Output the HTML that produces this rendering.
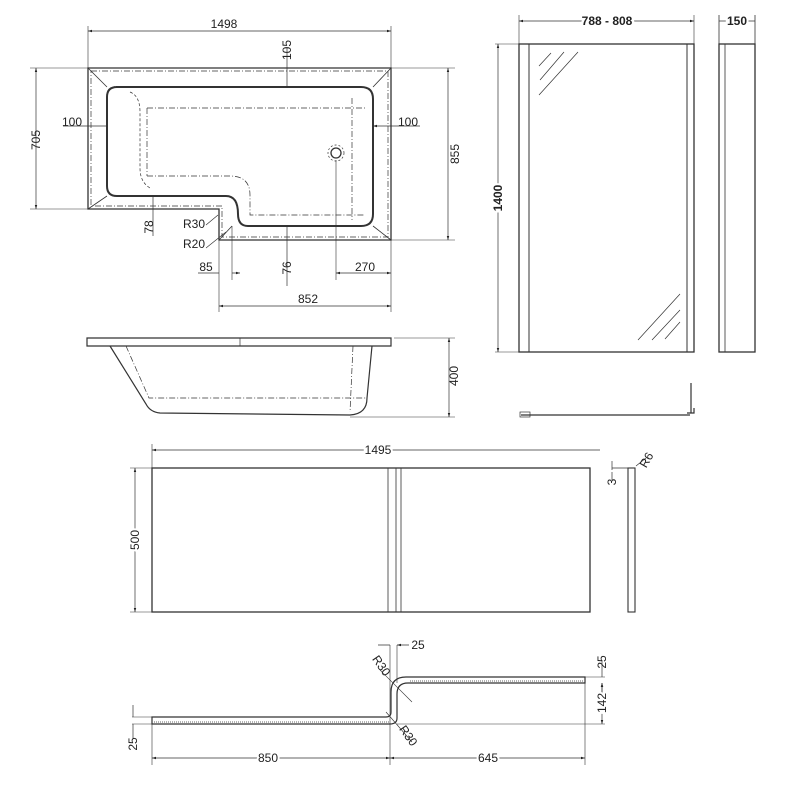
<!DOCTYPE html>
<html><head><meta charset="utf-8"><style>
html,body{margin:0;padding:0;background:#fff;width:800px;height:800px;overflow:hidden}
text{font-family:"Liberation Sans",Arial,sans-serif;fill:#222;font-size:12px}
</style></head><body>
<svg width="800" height="800" viewBox="0 0 800 800" xmlns="http://www.w3.org/2000/svg">
<defs>
<marker id="a" viewBox="0 0 10 10" refX="10" refY="5" markerWidth="6" markerHeight="6" orient="auto-start-reverse"><path d="M0,2 L10,5 L0,8z" fill="#222"/></marker>
</defs>
<g stroke="#333" fill="none" stroke-width="1">
<path d="M88,68 H391 V240 H219 V209 H88 Z" stroke-width="1.3"/>
<path d="M91,71 H388 V237 H222 V206 H91 Z" stroke-dasharray="6,2,1,2" stroke-width="0.7"/>
<path d="M116,87 H361 Q373,87 373,99 V214 Q373,226 361,226 H248 Q238,226 238,214 Q238,196 226,196 H117 Q107,196 107,186 V97 Q107,87 117,87 Z" stroke-width="2"/>
<path d="M88,68 L107,87 M391,68 L373,87 M391,240 L373,226 M88,209 L107,196 M219,240 L232,226" stroke-width="0.8"/>
<path d="M147,108 H365 M147,176 H230 Q250,176 250,195 V215 H365 M147,108 V176 M352,98 V220" stroke-dasharray="6,2,1,2" stroke-width="0.7"/>
<path d="M130,92 Q140,96 140,112 V168 Q140,182 150,188" stroke-dasharray="3,2" stroke-width="0.7"/>
<circle cx="336" cy="153" r="5" stroke-width="1.3"/><circle cx="336" cy="153" r="8" stroke-dasharray="2,2" stroke-width="0.7"/>
<path d="M88,68 V26 M391,68 V26 M88,209 H30 M88,68 H30 M391,68 H455 M391,240 H455 M219,240 V312 M391,240 V312 M232,226 V280 M336,160 V280" stroke-width="0.6"/>
<path d="M88,31 H391" marker-start="url(#a)" marker-end="url(#a)" stroke-width="0.7"/>
<path d="M36,68 V209" marker-start="url(#a)" marker-end="url(#a)" stroke-width="0.7"/>
<path d="M448,68 V240" marker-start="url(#a)" marker-end="url(#a)" stroke-width="0.7"/>
<path d="M219,306 H391" marker-start="url(#a)" marker-end="url(#a)" stroke-width="0.7"/>
<path d="M336,273 H391" marker-start="url(#a)" marker-end="url(#a)" stroke-width="0.7"/>
<path d="M198,273 H219 M232,273 H240" marker-end="url(#a)" stroke-width="0.7"/>
<path d="M287,48 V87 M287,286 V226 M153,236 V196 M63,126 H107 M420,126 H373" marker-end="url(#a)" stroke-width="0.7"/>
<path d="M206,225 L218,215 M206,248 L226,232" stroke-width="0.7"/>
<path d="M87,338 H391 V346 H87 Z" stroke-width="1.2"/>
<path d="M240,338 V346" stroke-width="0.7"/>
<path d="M110,346 L146,404 Q150,412 160,413 L350,415 Q367,414 367,398 L372,346" stroke-width="1.2"/>
<path d="M126,346 L149,398 H366 M353,346 L350,412" stroke-dasharray="6,2,1,2" stroke-width="0.7"/>
<path d="M394,338 H455 M350,417 H455" stroke-width="0.6"/>
<path d="M449,338 V417" marker-start="url(#a)" marker-end="url(#a)" stroke-width="0.7"/>
<rect x="152" y="468" width="438" height="144" stroke-width="1.3"/>
<path d="M388,468 V612 M396,468 V612 M401,468 V612" stroke-width="0.8"/>
<path d="M152,468 V444 M130,468 H152 M130,612 H152" stroke-width="0.6"/>
<path d="M152,450 H600" marker-start="url(#a)" stroke-width="0.7"/>
<path d="M135,468 V612" marker-start="url(#a)" marker-end="url(#a)" stroke-width="0.7"/>
<rect x="628" y="468" width="7" height="144" stroke-width="1.1"/>
<path d="M612,468 H628 M612,461 V470 M612,480 V472 M636,466 L646,458" stroke-width="0.7"/>
<rect x="519" y="44" width="175" height="308" stroke-width="1.3"/>
<path d="M529,44 V352 M687,44 V352" stroke-width="1"/>
<path d="M539,66 L551,53 M540,80 L564,52 M539,95 L578,52 M638,340 L680,294 M652,340 L680,310 M665,339 L680,322" stroke-width="0.7"/>
<path d="M519,44 V15 M694,44 V15 M495,44 H519 M495,352 H519" stroke-width="0.6"/>
<path d="M519,21 H694" marker-start="url(#a)" marker-end="url(#a)" stroke-width="0.7"/>
<path d="M498,44 V352" marker-start="url(#a)" marker-end="url(#a)" stroke-width="0.7"/>
<rect x="719" y="44" width="36" height="308" stroke-width="1.3"/>
<path d="M725,44 V352 M719,44 V15 M755,44 V15 M719,21 H755" stroke-width="0.8"/>
<path d="M521,415 H690 M691,383 V413 M687,413 H694 V408" stroke-width="1.2"/>
<rect x="520" y="412" width="10" height="5" stroke-width="0.7"/>
<path d="M152,717 H386 Q391,717 391,712 V692 Q391,677 406,677 H585 V683 H408 Q397,683 397,694 V718 Q397,724 390,724 H152 Z" stroke-width="1.2"/>
<path d="M154,722 H390 M410,681 H583" stroke-dasharray="1,1" stroke-width="0.8"/>
<path d="M152,724 V765 M390,645 V765 M397,645 V683 M585,683 V765 M397,724 H605 M585,677 H605 M152,717 H132 M152,724 H132 M380,670 L412,702 M386,712 L412,742" stroke-width="0.6"/>
<path d="M152,758 H390" marker-start="url(#a)" marker-end="url(#a)" stroke-width="0.7"/>
<path d="M390,758 H585" marker-start="url(#a)" marker-end="url(#a)" stroke-width="0.7"/>
<path d="M378,645 H390 M409,645 H397" marker-end="url(#a)" stroke-width="0.7"/>
<path d="M133,705 V717 M133,738 V724 M602,660 V677 M602,698 V683" marker-end="url(#a)" stroke-width="0.7"/>
<path d="M602,683 V724" marker-start="url(#a)" marker-end="url(#a)" stroke-width="0.7"/>
</g>
<g>
<text x="224" y="28" text-anchor="middle">1498</text>
<text x="0" y="0" transform="translate(40,140) rotate(-90)" text-anchor="middle">705</text>
<text x="0" y="0" transform="translate(459,154) rotate(-90)" text-anchor="middle">855</text>
<text x="0" y="0" transform="translate(291,50) rotate(-90)" text-anchor="middle">105</text>
<text x="72" y="126" text-anchor="middle">100</text>
<text x="408" y="126" text-anchor="middle">100</text>
<text x="0" y="0" transform="translate(153,227) rotate(-90)" text-anchor="middle">78</text>
<text x="194" y="228" text-anchor="middle">R30</text>
<text x="194" y="248" text-anchor="middle">R20</text>
<text x="206" y="271" text-anchor="middle">85</text>
<text x="0" y="0" transform="translate(291,268) rotate(-90)" text-anchor="middle">76</text>
<text x="365" y="271" text-anchor="middle">270</text>
<text x="308" y="303" text-anchor="middle">852</text>
<text x="0" y="0" transform="translate(458,376) rotate(-90)" text-anchor="middle">400</text>
<text x="378" y="454" text-anchor="middle" style="paint-order:stroke;stroke:#fff;stroke-width:4">1495</text>
<text x="0" y="0" transform="translate(139,540) rotate(-90)" text-anchor="middle" style="paint-order:stroke;stroke:#fff;stroke-width:4">500</text>
<text x="0" y="0" transform="translate(616,482) rotate(-90)" text-anchor="middle">3</text>
<text x="0" y="0" transform="translate(650,462) rotate(-60)" text-anchor="middle">R6</text>
<text x="607" y="25" text-anchor="middle" style="paint-order:stroke;stroke:#fff;stroke-width:5;font-weight:bold">788 - 808</text>
<text x="737" y="25" text-anchor="middle" style="paint-order:stroke;stroke:#fff;stroke-width:4;font-weight:bold">150</text>
<text x="0" y="0" transform="translate(502,198) rotate(-90)" text-anchor="middle" style="paint-order:stroke;stroke:#fff;stroke-width:4;font-weight:bold">1400</text>
<text x="418" y="649" text-anchor="middle">25</text>
<text x="0" y="0" transform="translate(378,668) rotate(55)" text-anchor="middle">R30</text>
<text x="0" y="0" transform="translate(405,738) rotate(55)" text-anchor="middle">R30</text>
<text x="0" y="0" transform="translate(606,662) rotate(-90)" text-anchor="middle">25</text>
<text x="0" y="0" transform="translate(606,703) rotate(-90)" text-anchor="middle" style="paint-order:stroke;stroke:#fff;stroke-width:4">142</text>
<text x="0" y="0" transform="translate(137,744) rotate(-90)" text-anchor="middle">25</text>
<text x="268" y="762" text-anchor="middle" style="paint-order:stroke;stroke:#fff;stroke-width:4">850</text>
<text x="488" y="762" text-anchor="middle" style="paint-order:stroke;stroke:#fff;stroke-width:4">645</text>
</g>
</svg>
</body></html>
